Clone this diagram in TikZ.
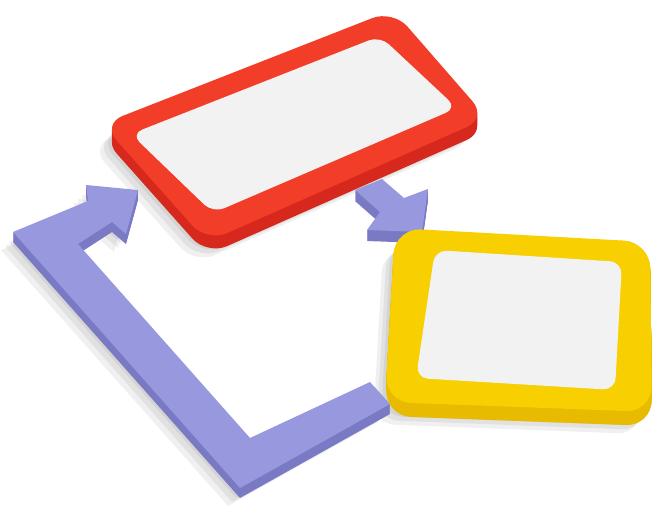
\documentclass[tikz,border=0pt]{standalone}
\usetikzlibrary{calc}
\definecolor{redtop}{RGB}{242,62,40}
\definecolor{redside}{RGB}{214,40,28}
\definecolor{yeltop}{RGB}{248,207,0}
\definecolor{yelside}{RGB}{232,186,0}
\definecolor{purtop}{RGB}{152,152,222}
\definecolor{purside}{RGB}{122,122,196}
\definecolor{panel}{RGB}{242,242,243}
\tikzset{
  shadowfill/.style={fill=black,opacity=0.06},
}
\def\RedOuter{(102,124) -- (393,10) -- (487,118) -- (207,242) -- cycle}
\def\RedInner{(131,134) -- (380,36) -- (457,108) -- (213,213) -- cycle}
\def\YelOuter{(395,228) -- (650,242) -- (652,412) -- (385,402) -- cycle}
\def\YelInner{(435,250) -- (622,262) -- (615,390) -- (416,378) -- cycle}
\def\PurL{(13,232) -- (88,201) -- (86,185) -- (138,190) -- (126,234) -- (112,222) -- (78,244) -- (250,438) -- (370,382) -- (390,404) -- (240,488) -- cycle}
\def\PurS{(355,190) -- (382,179) -- (404,198) -- (428,189) -- (422,232) -- (367,230) -- (380,212) -- cycle}
\begin{document}
\begin{tikzpicture}[x=1pt,y=-1pt]
\useasboundingbox (0,0) rectangle (658,507);
\fill[white] (0,0) rectangle (658,507);
% soft shadows
\foreach \s in {4,8,12}{
  \fill[shadowfill,shift={(-\s,\s+6)}] \PurL;
  \fill[shadowfill,shift={(-\s,\s+10)},rounded corners=22pt] \RedOuter;
  \fill[shadowfill,shift={(-\s,\s+10)},rounded corners=22pt] \YelOuter;
}
% purple L arrow
\foreach \d in {1,...,10}{\fill[purside,shift={(0,\d)}] \PurL;}
\fill[purtop] \PurL;
% small arrow
\foreach \d in {1,...,11}{\fill[purside,shift={(0,\d)}] \PurS;}
\fill[purtop] \PurS;
% red frame
\foreach \d in {1,...,13}{\fill[redside,shift={(0,\d)},rounded corners=22pt] \RedOuter;}
\fill[redtop,rounded corners=22pt] \RedOuter;
\fill[panel,rounded corners=12pt] \RedInner;
% yellow frame
\foreach \d in {1,...,14}{\fill[yelside,shift={(0,\d)},rounded corners=26pt] \YelOuter;}
\fill[yeltop,rounded corners=26pt] \YelOuter;
\fill[panel,rounded corners=12pt] \YelInner;
\end{tikzpicture}
\end{document}
